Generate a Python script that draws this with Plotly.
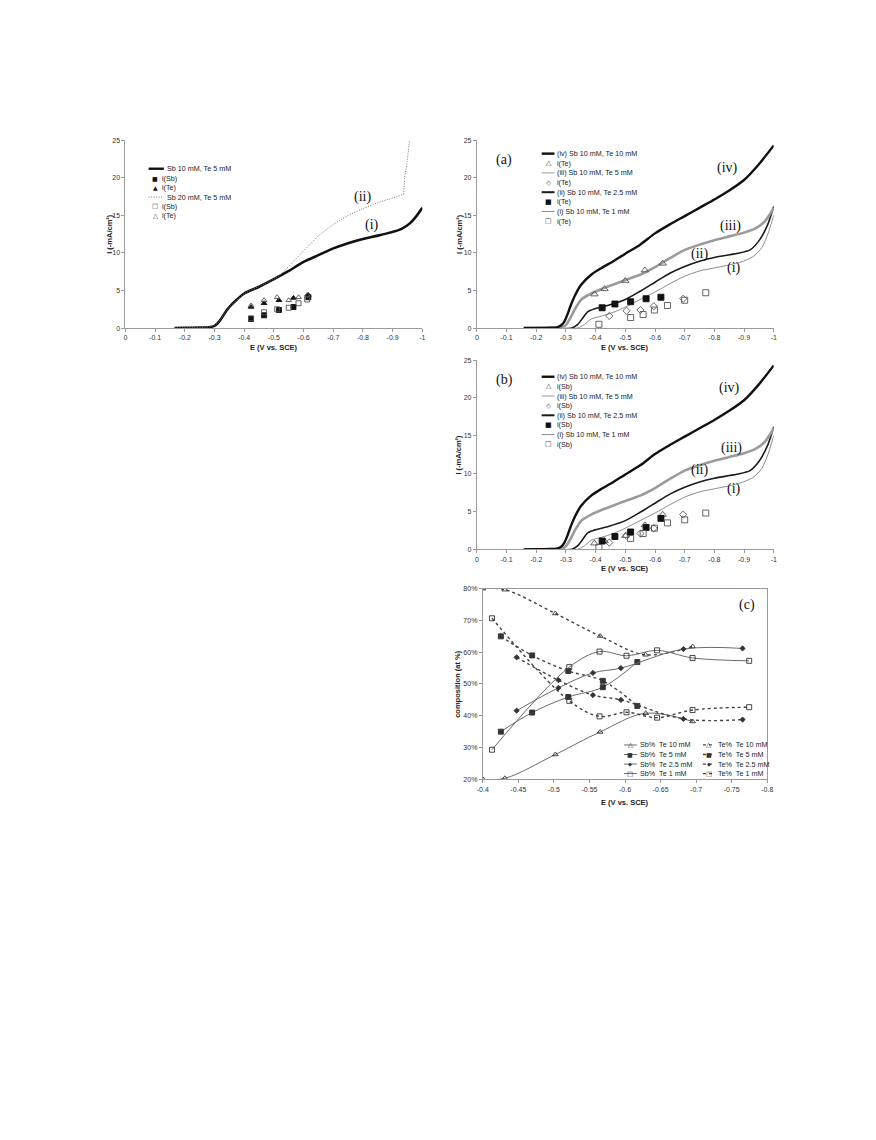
import plotly.graph_objects as go

W, H = 876, 1140
OFF = 8  # page body margin

# ---------------- data ----------------
# Left panel: Sb 10 mM, Te 5 mM (i) and Sb 20 mM, Te 5 mM (ii)
E_L1 = [-0.165, -0.2, -0.25, -0.28, -0.30, -0.31, -0.32, -0.33, -0.34, -0.35, -0.37, -0.40, -0.45,
        -0.50, -0.55, -0.60, -0.65, -0.70, -0.75, -0.80, -0.85, -0.90, -0.93, -0.96, -0.98, -1.0]
I_L1 = [0, 0.02, 0.05, 0.1, 0.3, 0.6, 1.1, 1.7, 2.3, 2.8, 3.6, 4.6, 5.5,
        6.5, 7.6, 8.8, 9.7, 10.6, 11.3, 11.85, 12.3, 12.8, 13.2, 14.0, 14.9, 16.0]
E_L2 = [-0.165, -0.25, -0.29, -0.31, -0.33, -0.35, -0.40, -0.45, -0.50, -0.52, -0.55, -0.60, -0.65,
        -0.70, -0.75, -0.80, -0.85, -0.90, -0.937, -0.94, -0.945, -0.95, -0.957]
I_L2 = [0, 0.05, 0.2, 0.6, 1.7, 2.8, 4.6, 5.5, 6.5, 7.0, 8.2, 10.3, 12.3,
        13.8, 15.0, 15.9, 16.7, 17.3, 17.8, 19.8, 21.0, 22.5, 25.0]
E_Lpts = [-0.423, -0.467, -0.517, -0.566, -0.616]
Isb_L1 = [1.2, 1.7, 2.4, 2.8, 4.1]
Ite_L1 = [2.8, 3.3, 3.7, 4.0, 4.4]
E_Lpts2 = [-0.423, -0.467, -0.511, -0.55, -0.583, -0.612]
Isb_L2 = [1.3, 2.1, 2.5, 2.7, 3.3, 3.8]
Ite_L2 = [3.0, 3.7, 4.1, 3.7, 4.1, 4.4]

# Panels (a)/(b): Sb 10 mM with Te 10 (iv), 5 (iii), 2.5 (ii), 1 (i) mM
E_iv = [-0.158, -0.2, -0.25, -0.27, -0.285, -0.295, -0.305, -0.315, -0.33, -0.35, -0.385, -0.42,
        -0.46, -0.50, -0.55, -0.60, -0.65, -0.70, -0.75, -0.80, -0.85, -0.90, -0.95, -1.0]
I_iv = [0, 0.02, 0.05, 0.1, 0.4, 0.9, 1.8, 2.9, 4.3, 5.7, 7.1, 8.0,
        8.9, 9.9, 11.1, 12.6, 13.8, 14.9, 16.0, 17.1, 18.3, 19.7, 21.8, 24.3]
E_iii = [-0.158, -0.2, -0.28, -0.297, -0.313, -0.33, -0.352, -0.385, -0.42, -0.46, -0.50, -0.55,
         -0.60, -0.65, -0.70, -0.75, -0.80, -0.85, -0.90, -0.94, -0.97, -1.0]
I_iii = [0, 0.01, 0.1, 0.3, 1.2, 2.5, 3.8, 4.6, 5.2, 5.8, 6.4, 7.1,
         8.1, 9.3, 10.4, 11.1, 11.7, 12.2, 12.7, 13.3, 14.2, 16.0]
E_ii = [-0.158, -0.2, -0.32, -0.34, -0.358, -0.374, -0.40, -0.44, -0.50, -0.55, -0.60, -0.65,
        -0.70, -0.75, -0.80, -0.85, -0.88, -0.92, -0.95, -0.98, -1.0]
I_ii = [0, 0.0, 0.02, 0.5, 1.4, 2.2, 2.6, 3.0, 3.8, 4.9, 6.1, 7.3,
        8.2, 8.9, 9.4, 9.75, 9.95, 10.4, 11.6, 13.8, 16.2]
E_i = [-0.158, -0.2, -0.34, -0.363, -0.385, -0.42, -0.46, -0.50, -0.55, -0.60, -0.65, -0.70,
       -0.75, -0.80, -0.85, -0.89, -0.93, -0.96, -0.98, -1.0]
I_i = [0, 0.0, 0.02, 0.5, 1.2, 1.6, 2.1, 2.8, 3.8, 4.8, 5.9, 6.9,
       7.6, 8.0, 8.4, 8.8, 9.5, 10.7, 12.5, 15.0]

# partial currents
E_p10 = [-0.396, -0.43, -0.50, -0.566, -0.626]
Ite_10 = [4.5, 5.2, 6.3, 7.7, 8.6]
Isb_10 = [0.8, 1.1, 1.8, 3.2, 4.6]
E_p5 = [-0.446, -0.504, -0.551, -0.596, -0.695]
Ite_5 = [1.6, 2.3, 2.4, 2.9, 3.9]
Isb_5 = [0.9, 1.8, 2.1, 2.8, 4.6]
E_p25 = [-0.422, -0.465, -0.518, -0.57, -0.62]
Ite_25 = [2.7, 3.2, 3.5, 3.9, 4.1]
Isb_25 = [1.1, 1.7, 2.3, 2.9, 4.1]
E_p1 = [-0.411, -0.518, -0.56, -0.598, -0.642, -0.70, -0.771]
Ite_1 = [0.5, 1.4, 1.8, 2.4, 3.0, 3.7, 4.7]
Isb_1 = [0.25, 1.45, 2.1, 2.8, 3.5, 3.9, 4.8]

# Panel (c): composition (at %)
E_c10 = [-0.40, -0.431, -0.502, -0.565, -0.629, -0.695]
Sb_c10 = [20.0, 20.3, 27.8, 34.9, 40.8, 38.2]
Te_c10 = [80.0, 79.7, 72.2, 65.1, 59.2, 61.8]
E_c5 = [-0.4254, -0.4694, -0.5202, -0.5688, -0.6173]
Sb_c5 = [35.0, 41.0, 45.9, 49.0, 56.9]
Te_c5 = [65.0, 59.0, 54.1, 51.0, 43.1]
E_c25 = [-0.4476, -0.5064, -0.5549, -0.5942, -0.6821, -0.7653]
Sb_c25 = [41.6, 48.8, 53.5, 55.0, 61.0, 61.2]
Te_c25 = [58.4, 51.2, 46.5, 45.0, 39.0, 38.8]
E_c1 = [-0.4129, -0.5216, -0.5642, -0.6021, -0.6451, -0.695, -0.7746]
Sb_c1 = [29.3, 55.3, 60.2, 58.9, 60.6, 58.2, 57.3]
Te_c1 = [70.7, 44.7, 39.8, 41.1, 39.4, 41.8, 42.7]

E_ticks = [0, -0.1, -0.2, -0.3, -0.4, -0.5, -0.6, -0.7, -0.8, -0.9, -1.0]
E_ticktext = ["0", "-0.1", "-0.2", "-0.3", "-0.4", "-0.5", "-0.6", "-0.7", "-0.8", "-0.9", "-1"]
Ec_ticks = [-0.4, -0.45, -0.5, -0.55, -0.6, -0.65, -0.7, -0.75, -0.8]
Ec_ticktext = ["-0.4", "-0.45", "-0.5", "-0.55", "-0.6", "-0.65", "-0.7", "-0.75", "-0.8"]

# ---------------- helpers ----------------
def px(x):
    return (x - OFF) / W

def py(y):
    return 1 - (y - OFF) / H

SANS = "Liberation Sans, Arial, sans-serif"
SERIF = "Liberation Serif, Times New Roman, serif"
AX = "#9a9a9a"

fig = go.Figure()

def line(x, y, ax, color, width, dash="solid", shape="spline", smooth=0.7):
    fig.add_trace(go.Scatter(x=x, y=y, mode="lines", xaxis=ax[0], yaxis=ax[1],
                             line=dict(color=color, width=width, dash=dash, shape=shape,
                                       smoothing=smooth if shape == "spline" else None),
                             showlegend=False, hoverinfo="skip"))

def pts(x, y, ax, symbol, color, size=5.5, lw=0.9):
    fig.add_trace(go.Scatter(x=x, y=y, mode="markers", xaxis=ax[0], yaxis=ax[1],
                             marker=dict(symbol=symbol, size=size, color=color,
                                         line=dict(color=color, width=lw)),
                             showlegend=False, hoverinfo="skip"))

# ---- left panel ----
L = ("x", "y")
line(E_L1, I_L1, L, "#111111", 2.6)
line(E_L2, I_L2, L, "#7a7a7a", 1.0, dash="1px,1.5px", shape="linear")
pts(E_Lpts, Isb_L1, L, "square", "#111111", 5)
pts(E_Lpts, Ite_L1, L, "triangle-up", "#111111", 5)
pts(E_Lpts2, Isb_L2, L, "square-open", "#555555", 5)
pts(E_Lpts2, Ite_L2, L, "triangle-up-open", "#555555", 5)

# ---- panels (a) and (b) ----
A = ("x2", "y2")
B = ("x3", "y3")
for P in (A, B):
    line(E_i, I_i, P, "#8c8c8c", 1.0)
    line(E_ii, I_ii, P, "#1a1a1a", 1.6)
    line(E_iii, I_iii, P, "#9b9b9b", 2.6)
    line(E_iv, I_iv, P, "#111111", 2.4)

pts(E_p10, Ite_10, A, "triangle-up-open", "#555555", 6.5)
pts(E_p5, Ite_5, A, "diamond-open", "#555555", 5.5)
pts(E_p25, Ite_25, A, "square", "#111111", 6)
pts(E_p1, Ite_1, A, "square-open", "#555555", 6)

pts(E_p10, Isb_10, B, "triangle-up-open", "#555555", 6.5)
pts(E_p5, Isb_5, B, "diamond-open", "#555555", 5.5)
pts(E_p25, Isb_25, B, "square", "#111111", 6)
pts(E_p1, Isb_1, B, "square-open", "#555555", 6)

# ---- panel (c) ----
C = ("x4", "y4")
SOL = "#6a6a6a"
DSH = "#444444"
for E, Sb, Te, sym, sz in ((E_c10, Sb_c10, Te_c10, "triangle-up-open", 5),
                           (E_c5, Sb_c5, Te_c5, "square", 5),
                           (E_c25, Sb_c25, Te_c25, "diamond", 4),
                           (E_c1, Sb_c1, Te_c1, "square-open", 5)):
    fig.add_trace(go.Scatter(x=E, y=Sb, mode="lines+markers", xaxis="x4", yaxis="y4",
                             line=dict(color=SOL, width=1, shape="spline", smoothing=1.0),
                             marker=dict(symbol=sym, size=sz, color="#333333",
                                         line=dict(color="#333333", width=0.9)),
                             showlegend=False, hoverinfo="skip"))
    fig.add_trace(go.Scatter(x=E, y=Te, mode="lines+markers", xaxis="x4", yaxis="y4",
                             line=dict(color=DSH, width=1.4, dash="dot", shape="spline", smoothing=1.0),
                             marker=dict(symbol=sym, size=sz, color="#333333",
                                         line=dict(color="#333333", width=0.9)),
                             showlegend=False, hoverinfo="skip"))

# ---------------- axes ----------------
def xax(dom, anchor, rng, tv, tt, mirror=False):
    return dict(domain=dom, anchor=anchor, range=rng, tickvals=tv, ticktext=tt,
                showline=True, linecolor=AX, linewidth=1, mirror=mirror,
                ticks="outside", ticklen=3, tickcolor=AX, showgrid=False, zeroline=False,
                tickfont=dict(family=SANS, size=7, color="#333333"))

def yax(dom, anchor, rng, dtick, suffix="", mirror=False):
    return dict(domain=dom, anchor=anchor, range=rng, dtick=dtick, ticksuffix=suffix,
                showline=True, linecolor=AX, linewidth=1, mirror=mirror,
                ticks="outside", ticklen=3, tickcolor=AX, showgrid=False, zeroline=False,
                tickfont=dict(family=SANS, size=7, color="#333333"))

# pixel boxes of plot areas
BOX_L = (121, 422, 137, 326)
BOX_A = (477.3, 778.3, 137, 326)
BOX_B = (477.3, 778.3, 358.3, 548.7)
BOX_C = (483.3, 771.7, 588.3, 780)

def dx(b):
    return [px(b[0]), px(b[1])]

def dy(b):
    return [py(b[3]), py(b[2])]

fig.update_layout(
    xaxis=xax(dx(BOX_L), "y", [0, -1], E_ticks, E_ticktext),
    yaxis=yax(dy(BOX_L), "x", [0, 25], 5),
    xaxis2=xax(dx(BOX_A), "y2", [0, -1], E_ticks, E_ticktext),
    yaxis2=yax(dy(BOX_A), "x2", [0, 25], 5),
    xaxis3=xax(dx(BOX_B), "y3", [0, -1], E_ticks, E_ticktext),
    yaxis3=yax(dy(BOX_B), "x3", [0, 25], 5),
    xaxis4=xax(dx(BOX_C), "y4", [-0.4, -0.8], Ec_ticks, Ec_ticktext, mirror=True),
    yaxis4=yax(dy(BOX_C), "x4", [20, 80], 10, "%", mirror=True),
)

# ---------------- annotations ----------------
ann = []
shapes = []

def txt(x, y, s, size=7.5, xanchor="left", bold=False, family=SANS, angle=0, color="#222222"):
    ann.append(dict(x=px(x), y=py(y), xref="paper", yref="paper", text=s,
                    showarrow=False, xanchor=xanchor, yanchor="middle", textangle=angle,
                    font=dict(family=family, size=size, color=color,
                              weight="bold" if bold else "normal")))

# axis titles
for b, ty in ((BOX_L, 346), (BOX_A, 346), (BOX_B, 568)):
    txt((b[0] + b[1]) / 2, ty, "E (V vs. SCE)", 7.5, "center", True)
txt((BOX_C[0] + BOX_C[1]) / 2, 803, "E (V vs. SCE)", 7.5, "center", True)
txt(104, (BOX_L[2] + BOX_L[3]) / 2, "I (-mA/cm\u00b2)", 7.5, "center", True, angle=-90)
txt(459, (BOX_A[2] + BOX_A[3]) / 2, "I (-mA/cm\u00b2)", 7.5, "center", True, angle=-90)
txt(459, (BOX_B[2] + BOX_B[3]) / 2, "I (-mA/cm\u00b2)", 7.5, "center", True, angle=-90)
txt(458, (BOX_C[2] + BOX_C[3]) / 2, "composition (at %)", 7.5, "center", True, angle=-90)

# curve labels (data coordinates)
def dlabel(ax, x, y, s, size=14):
    ann.append(dict(x=x, y=y, xref=ax[0], yref=ax[1], text=s, showarrow=False,
                    xanchor="center", yanchor="middle",
                    font=dict(family=SERIF, size=size, color="#111111")))

dlabel(L, -0.80, 17.5, "(ii)")
dlabel(L, -0.83, 13.7, "(i)")
dlabel(A, -0.092, 22.4, "(a)")
dlabel(A, -0.845, 21.3, "(iv)")
dlabel(A, -0.853, 13.6, "(iii)")
dlabel(A, -0.75, 9.9, "(ii)")
dlabel(A, -0.866, 8.0, "(i)")
dlabel(B, -0.092, 22.4, "(b)")
dlabel(B, -0.85, 21.3, "(iv)")
dlabel(B, -0.856, 13.4, "(iii)")
dlabel(B, -0.75, 10.55, "(ii)")
dlabel(B, -0.866, 8.0, "(i)")
dlabel(C, -0.772, 74.8, "(c)")

# ---------------- legends (drawn as keys + text) ----------------
def key_line(x0, x1, y, color, width, dash="solid"):
    shapes.append(dict(type="line", xref="paper", yref="paper", x0=px(x0), x1=px(x1), y0=py(y), y1=py(y),
                       line=dict(color=color, width=width, dash=dash)))

def key_glyph(x, y, g, color="#222222", size=7):
    ann.append(dict(x=px(x), y=py(y), xref="paper", yref="paper", text=g, showarrow=False,
                    xanchor="center", yanchor="middle",
                    font=dict(family="DejaVu Sans", size=size, color=color)))

def curve_legend(entries, y0, dy_, lx0, lx1, ltx, mx, mtx):
    for k, e in enumerate(entries):
        y = y0 + k * dy_
        if e[0] == "line":
            key_line(lx0, lx1, y, e[2], e[3], e[4])
            txt(ltx, y, e[1], 7.2)
        else:
            key_glyph(mx, y, e[2], e[3], e[4])
            txt(mtx, y, e[1], 7.2)

legL = [("line", "Sb 10 mM, Te 5 mM", "#111111", 2.4, "solid"),
        ("mk", "i(Sb)", "\u25a0", "#111111", 6),
        ("mk", "i(Te)", "\u25b2", "#111111", 6),
        ("line", "Sb 20 mM, Te 5 mM", "#7a7a7a", 1.0, "1px,1.5px"),
        ("mk", "i(Sb)", "\u25a1", "#444444", 6.5),
        ("mk", "i(Te)", "\u25b3", "#444444", 6.5)]
curve_legend(legL, 165.7, 9.5, 144.5, 160, 161.5, 151, 156.5)

def ab_legend(lbl):
    return [("line", "(iv) Sb 10 mM, Te 10 mM", "#111111", 2.4, "solid"),
            ("mk", lbl, "\u25b3", "#444444", 7),
            ("line", "(iii) Sb 10 mM, Te 5 mM", "#9b9b9b", 1.0, "solid"),
            ("mk", lbl, "\u25c7", "#444444", 6.5),
            ("line", "(ii) Sb 10 mM, Te 2.5 mM", "#1a1a1a", 2.0, "solid"),
            ("mk", lbl, "\u25a0", "#111111", 7),
            ("line", "(i) Sb 10 mM, Te 1 mM", "#8c8c8c", 1.0, "solid"),
            ("mk", lbl, "\u25a1", "#444444", 7)]

curve_legend(ab_legend("i(Te)"), 150.5, 9.7, 543, 556, 556.5, 550, 557)
curve_legend(ab_legend("i(Sb)"), 375.0, 9.7, 543, 556, 556.5, 550, 557)

legC = [("10", "\u25b3", 6.5), ("5", "\u25a0", 6), ("2.5", "\u25c6", 5), ("1", "\u25a1", 6.5)]
for k, (te, g, gs) in enumerate(legC):
    y = 745.5 + k * 9.6
    key_line(626.5, 639.5, y, SOL, 1)
    key_glyph(633, y, g, "#333333", gs)
    txt(640.5, y, "Sb%%\u00a0 Te %s mM" % te, 7.2)
    key_line(706.5, 718, y, DSH, 1.3, "dot")
    key_glyph(712.3, y, g, "#333333", gs)
    txt(719.5, y, "Te%%\u00a0 Te %s mM" % te, 7.2)

fig.update_layout(
    width=W, height=H, margin=dict(l=0, r=0, t=0, b=0),
    paper_bgcolor="white", plot_bgcolor="white",
    showlegend=False, annotations=ann, shapes=shapes,
    font=dict(family=SANS, size=7, color="#333333"),
)

fig.write_html("out.html")
